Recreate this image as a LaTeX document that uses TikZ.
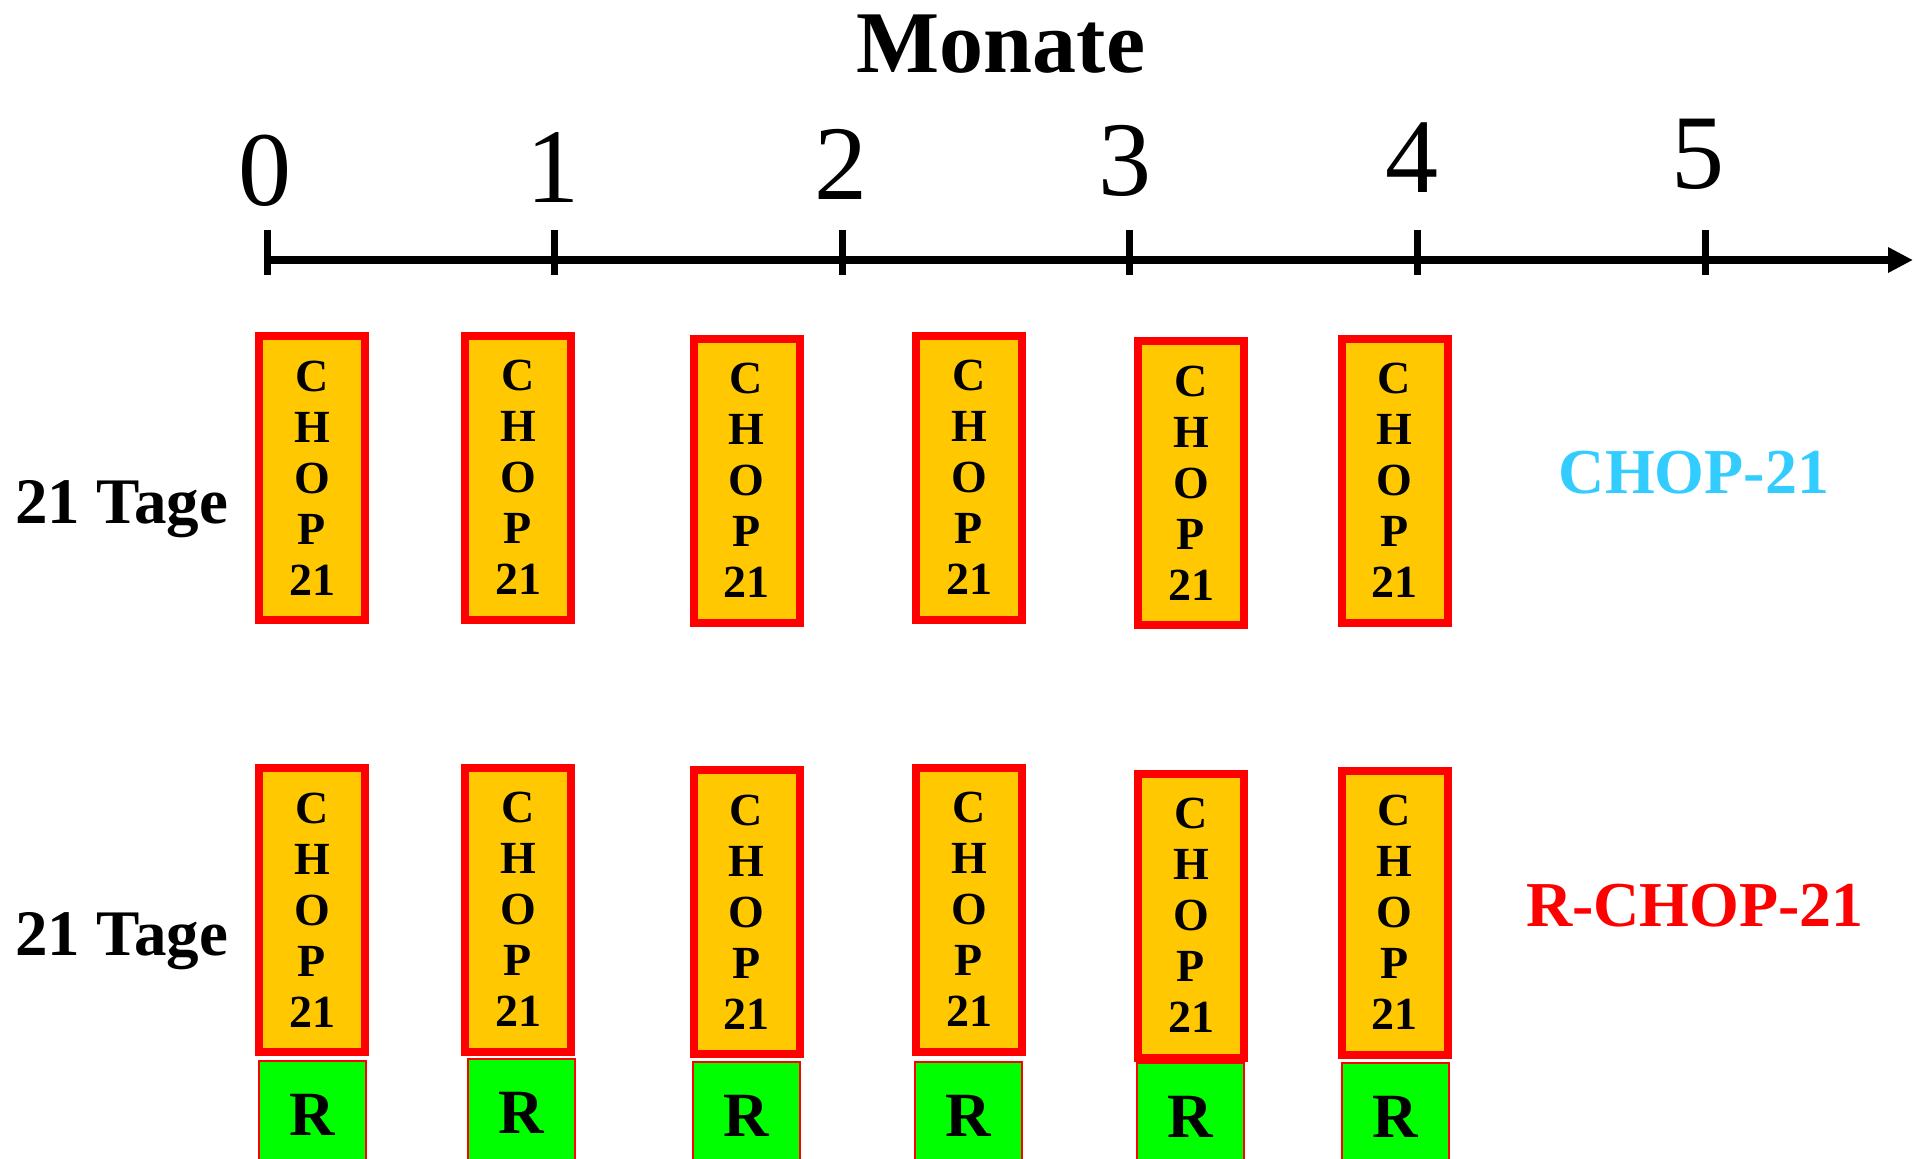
\documentclass[tikz,border=0pt]{standalone}
\usepackage{fontspec}
\setmainfont{Liberation Serif}
\usetikzlibrary{arrows.meta}
\definecolor{chopfill}{HTML}{FFC800}
\definecolor{rgreen}{HTML}{00FF00}
\definecolor{cyanlabel}{HTML}{33CCFF}
\begin{document}
\begin{tikzpicture}[x=0.5pt,y=-0.5pt,
  chopbox/.style={draw=red, line width=4pt, fill=chopfill, minimum width=53pt, minimum height=142pt,
    inner sep=0pt, align=center, font=\fontsize{23}{25.5}\selectfont\bfseries},
  rbox/.style={draw=red, line width=1pt, fill=rgreen, minimum width=53.5pt, minimum height=54.5pt,
    inner sep=0pt, font=\fontsize{31.5}{36}\selectfont\bfseries},
  digit/.style={anchor=base, inner sep=0pt, font=\fontsize{53}{60}\selectfont},
  axisline/.style={line width=4pt, -{Triangle[length=12.5pt,width=12pt]}},
  tickline/.style={line width=3.5pt},
  tage/.style={anchor=base west, inner sep=0pt, font=\fontsize{32.5}{38}\selectfont\bfseries},
  schema/.style={anchor=base, inner sep=0pt, font=\fontsize{32}{38}\selectfont\bfseries}]
\clip (0,0) rectangle (1915,1158);
\fill[white] (0,0) rectangle (1915,1158);

% title
\node[anchor=base, inner sep=0pt, font=\fontsize{44}{50}\selectfont\bfseries] (monate) at (1001,72) {Monate};

% axis
\coordinate (astart) at (264,260);
\coordinate (aend) at (1913,260);
\draw[axisline] (astart) -- (aend);
\foreach \i in {0,...,5}{
  \coordinate (tk\i a) at (267+287.6*\i,230);
  \coordinate (tk\i b) at (267+287.6*\i,275);
  \draw[tickline] (tk\i a) -- (tk\i b);
}
\node[digit] (d0) at (265,205) {0};
\node[digit] (d1) at (553,202) {1};
\node[digit] (d2) at (841,199) {2};
\node[digit] (d3) at (1125,195) {3};
\node[digit] (d4) at (1412,192) {4};
\node[digit] (d5) at (1698,188) {5};

% row labels
\node[tage] (tage1) at (15,523) {21 Tage};
\node[tage] (tage2) at (15,955) {21 Tage};
\node[schema, text=cyanlabel] (lchop) at (1694,493) {CHOP-21};
\node[schema, text=red] (lrchop) at (1695,926) {R-CHOP-21};

% top row: CHOP-21
\node[chopbox] (t1) at (312,478) {C\\H\\O\\P\\21};
\node[chopbox] (t2) at (518,477.5) {C\\H\\O\\P\\21};
\node[chopbox] (t3) at (746.5,480.5) {C\\H\\O\\P\\21};
\node[chopbox] (t4) at (969,477.5) {C\\H\\O\\P\\21};
\node[chopbox] (t5) at (1191,483) {C\\H\\O\\P\\21};
\node[chopbox] (t6) at (1394.5,480.5) {C\\H\\O\\P\\21};

% bottom row: R-CHOP-21
\node[chopbox] (b1) at (312,910) {C\\H\\O\\P\\21};
\node[chopbox] (b2) at (518,909.5) {C\\H\\O\\P\\21};
\node[chopbox] (b3) at (746.5,912) {C\\H\\O\\P\\21};
\node[chopbox] (b4) at (969,909.5) {C\\H\\O\\P\\21};
\node[chopbox] (b5) at (1191,915.5) {C\\H\\O\\P\\21};
\node[chopbox] (b6) at (1394.5,912.5) {C\\H\\O\\P\\21};

% rituximab boxes
\node[rbox] (r1) at (312.5,1115) {R};
\node[rbox] (r2) at (521,1113) {R};
\node[rbox] (r3) at (746,1116) {R};
\node[rbox] (r4) at (968.5,1116) {R};
\node[rbox] (r5) at (1190.5,1117) {R};
\node[rbox] (r6) at (1395,1117) {R};
\end{tikzpicture}
\end{document}
